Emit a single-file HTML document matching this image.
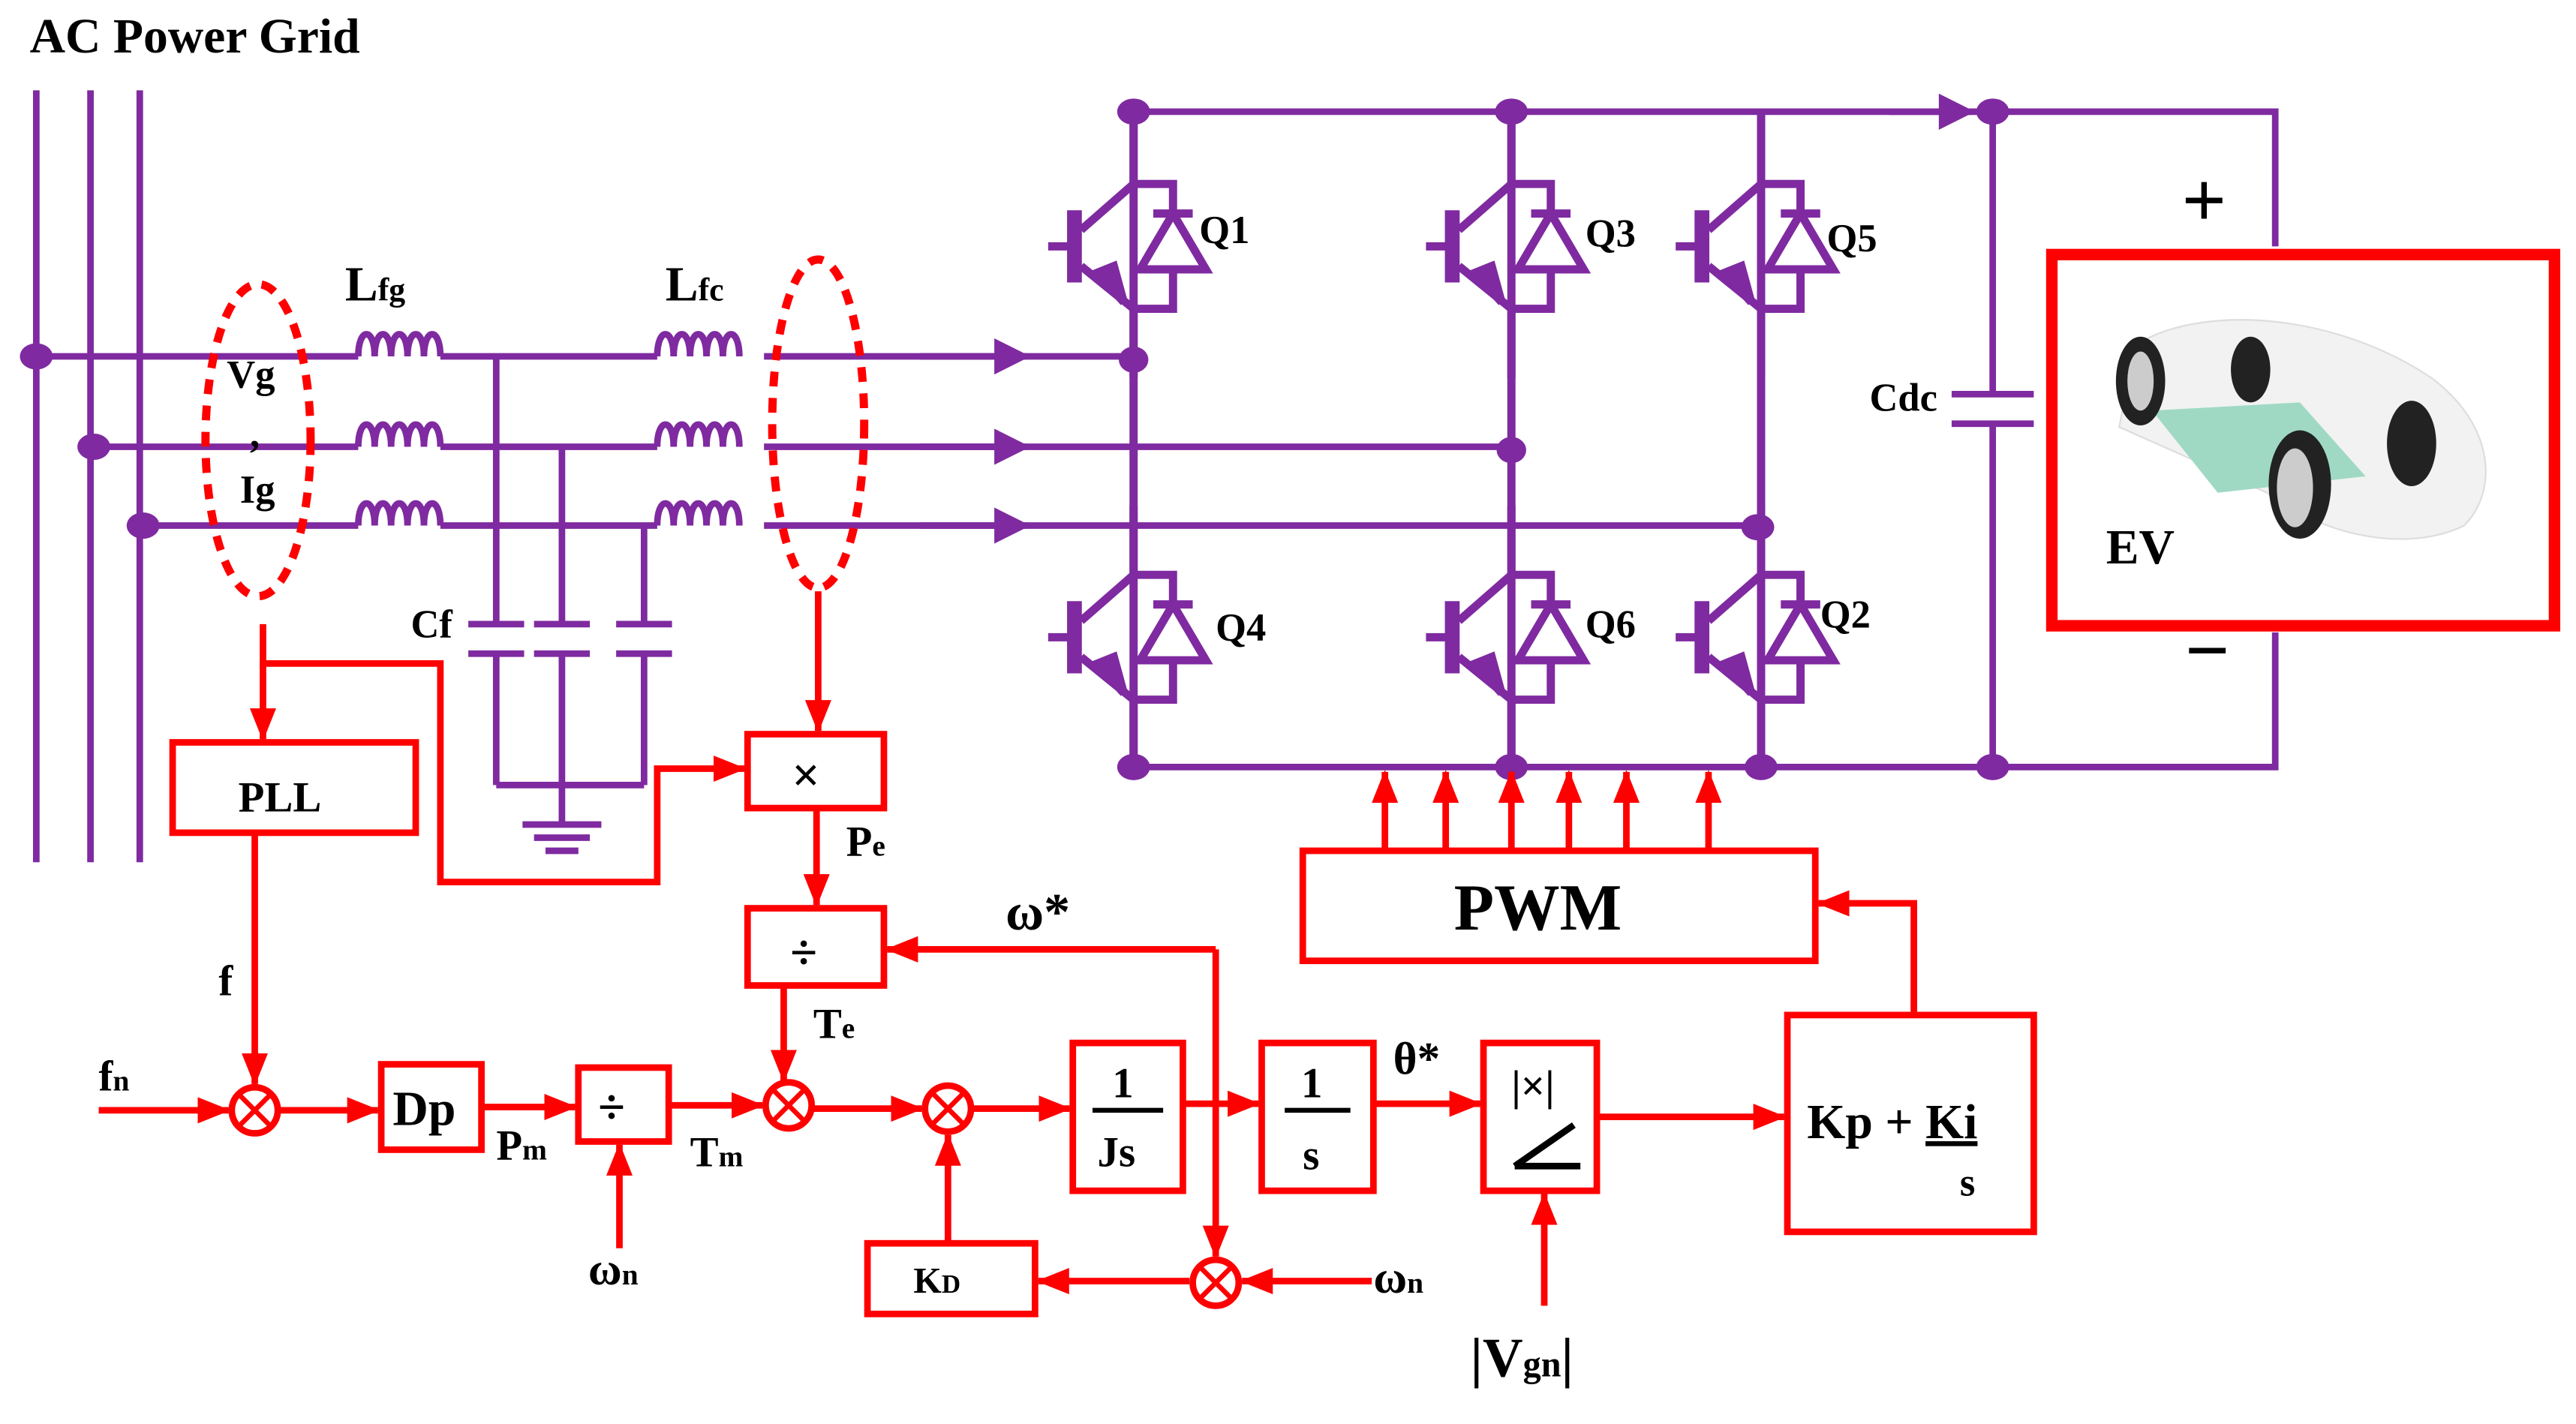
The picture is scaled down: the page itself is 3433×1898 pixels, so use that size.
<!DOCTYPE html>
<html><head><meta charset="utf-8"><style>
html,body{margin:0;padding:0;background:#fff}
svg{display:block}
text{font-family:"Liberation Serif",serif;font-weight:bold}
</style></head><body>
<svg width="3433" height="1898" viewBox="0 0 1568 867" xmlns="http://www.w3.org/2000/svg">
<defs>
<marker id="ar" markerWidth="20" markerHeight="16" refX="7.5" refY="4" orient="auto" markerUnits="userSpaceOnUse" viewBox="0 0 8 8" preserveAspectRatio="none"><path d="M0,0 L8,4 L0,8z" fill="#ff0000"/></marker>
<marker id="ap" viewBox="0 0 10 10" refX="9" refY="5" markerWidth="32" markerHeight="22" orient="auto" markerUnits="userSpaceOnUse"><path d="M0,0 L10,5 L0,10z" fill="#7f2aa0"/></marker>
<g id="igbt" stroke="#7f2aa0" stroke-width="5" fill="none">
<path d="M0,-80 V-38 H24 V38 H0 V80"/>
<path d="M0,-38 L-32,-10"/>
<path d="M-36,-22 V22" stroke-width="9"/>
<path d="M-52,0 H-36"/>
<path d="M-32,12 L0,38"/>
<path d="M-6,34 L-22,16 L-12,12z" fill="#7f2aa0"/>
<path d="M12,-20 H36"/>
<path d="M24,-20 L4,14 H44z" fill="#fff"/>
</g>
<g id="ind" fill="none" stroke="#7f2aa0" stroke-width="4">
<path d="M0,10 C0,-8 10,-8 10,10 C10,-8 20,-8 20,10 C20,-8 30,-8 30,10 C30,-8 40,-8 40,10 C40,-8 50,-8 50,10"/>
</g>
</defs>

<text x="18" y="32" font-size="30">AC Power Grid</text>

<g stroke="#7f2aa0" stroke-width="4" fill="none">
<path d="M22,55 V525 M55,55 V525 M85,55 V525"/>
<path d="M22,217 H218 M268,217 H400 M465,217 H690"/>
<path d="M55,272 H218 M268,272 H400 M465,272 H920"/>
<path d="M85,320 H218 M268,320 H400 M465,320 H1070"/>
<path d="M302,217 V380 M342,272 V380 M392,320 V380"/>
<path d="M302,398 V478 M342,398 V478 M392,398 V478 M302,478 H392"/>
<path d="M285,380 H319 M285,398 H319 M325,380 H359 M325,398 H359 M375,380 H409 M375,398 H409"/>
<path d="M342,478 V500 M318,502 H366 M325,510 H359 M332,518 H352"/>
<path d="M690,68 H1385 V150 M690,467 H1385 V385"/>
<path d="M1213,68 V240 M1213,258 V467 M1188,240 H1238 M1188,258 H1238"/>
<path d="M560,217 H625" marker-end="url(#ap)"/>
<path d="M560,272 H625" marker-end="url(#ap)"/>
<path d="M560,320 H625" marker-end="url(#ap)"/>
<path d="M1150,68 H1200" marker-end="url(#ap)"/>
</g>
<use href="#ind" x="218" y="207"/><use href="#ind" x="218" y="262"/><use href="#ind" x="218" y="310"/>
<use href="#ind" x="400" y="207"/><use href="#ind" x="400" y="262"/><use href="#ind" x="400" y="310"/>

<use href="#igbt" x="690" y="150"/>
<use href="#igbt" x="920" y="150"/>
<use href="#igbt" x="1072" y="150"/>
<use href="#igbt" x="690" y="388"/>
<use href="#igbt" x="920" y="388"/>
<use href="#igbt" x="1072" y="388"/>
<g stroke="#7f2aa0" stroke-width="5"><path d="M690,68 V467 M920,68 V467 M1072,68 V467"/></g>

<g fill="#7f2aa0">
<ellipse cx="22" cy="217" rx="10" ry="8"/><ellipse cx="57" cy="272" rx="10" ry="8"/><ellipse cx="87" cy="320" rx="10" ry="8"/>
<ellipse cx="690" cy="68" rx="10" ry="8"/><ellipse cx="920" cy="68" rx="10" ry="8"/><ellipse cx="1213" cy="68" rx="10" ry="8"/>
<ellipse cx="690" cy="219" rx="9" ry="8"/><ellipse cx="920" cy="274" rx="9" ry="8"/><ellipse cx="1070" cy="321" rx="10" ry="8"/>
<ellipse cx="690" cy="467" rx="10" ry="8"/><ellipse cx="920" cy="467" rx="10" ry="8"/><ellipse cx="1072" cy="467" rx="10" ry="8"/><ellipse cx="1213" cy="467" rx="10" ry="8"/>
</g>

<g font-size="24">
<text x="730" y="148">Q1</text><text x="965" y="150">Q3</text><text x="1112" y="153">Q5</text>
<text x="740" y="390">Q4</text><text x="965" y="388">Q6</text><text x="1108" y="382">Q2</text>
<text x="1138" y="250">Cdc</text>
<text x="250" y="388">Cf</text>
<text x="138" y="236">Vg</text><text x="152" y="272">,</text><text x="146" y="306">Ig</text>
</g>
<text x="210" y="183" font-size="30">L<tspan font-size="20">fg</tspan></text>
<text x="405" y="183" font-size="30">L<tspan font-size="20">fc</tspan></text>

<text x="1328" y="138" font-size="48" font-family="Liberation Sans">+</text>
<text x="1330" y="412" font-size="48" font-family="Liberation Sans">−</text>

<rect x="1249" y="155" width="306" height="226" fill="#fff" stroke="#ff0000" stroke-width="7"/>
<g>
<path d="M1300,210 C1340,185 1420,190 1480,230 C1520,260 1520,300 1500,320 C1470,335 1420,330 1380,300 L1290,260z" fill="#f2f2f2" stroke="#ddd"/>
<path d="M1310,250 L1400,245 L1440,290 L1350,300z" fill="#9fd9c4"/>
<ellipse cx="1303" cy="232" rx="15" ry="27" fill="#222"/><ellipse cx="1303" cy="232" rx="8" ry="18" fill="#ccc"/>
<ellipse cx="1370" cy="225" rx="12" ry="20" fill="#222"/>
<ellipse cx="1400" cy="295" rx="19" ry="33" fill="#222"/><ellipse cx="1397" cy="297" rx="11" ry="24" fill="#ccc"/>
<ellipse cx="1468" cy="270" rx="15" ry="26" fill="#222"/>
</g>
<text x="1282" y="343" font-size="30">EV</text>

<g fill="none" stroke="#ff0000" stroke-width="5" stroke-dasharray="9,7">
<ellipse cx="157" cy="268" rx="32" ry="95"/>
<ellipse cx="498" cy="258" rx="28" ry="100"/>
</g>

<g fill="#fff" stroke="#ff0000" stroke-width="4">
<rect x="105" y="452" width="148" height="55"/>
<rect x="455" y="447" width="83" height="45"/>
<rect x="455" y="553" width="83" height="47"/>
<rect x="793" y="518" width="312" height="67"/>
<rect x="232" y="648" width="61" height="52"/>
<rect x="352" y="650" width="55" height="45"/>
<rect x="653" y="635" width="67" height="90"/>
<rect x="768" y="635" width="68" height="90"/>
<rect x="903" y="635" width="69" height="90"/>
<rect x="1088" y="618" width="150" height="132"/>
<rect x="528" y="757" width="102" height="43"/>
</g>

<g fill="none" stroke="#ff0000" stroke-width="4">
<path d="M160,380 V450" marker-end="url(#ar)"/>
<path d="M160,404 H268 V537 H400 V468 H453" marker-end="url(#ar)"/>
<path d="M498,360 V445" marker-end="url(#ar)"/>
<path d="M497,492 V551" marker-end="url(#ar)"/>
<path d="M477,600 V658" marker-end="url(#ar)"/>
<path d="M155,507 V660" marker-end="url(#ar)"/>
<path d="M60,676 H139" marker-end="url(#ar)"/>
<path d="M169,676 H230" marker-end="url(#ar)"/>
<path d="M293,674 H350" marker-end="url(#ar)"/>
<path d="M407,673 H464" marker-end="url(#ar)"/>
<path d="M494,675 H561" marker-end="url(#ar)"/>
<path d="M591,675 H651" marker-end="url(#ar)"/>
<path d="M720,672 H766" marker-end="url(#ar)"/>
<path d="M836,672 H901" marker-end="url(#ar)"/>
<path d="M972,680 H1086" marker-end="url(#ar)"/>
<path d="M377,760 V697" marker-end="url(#ar)"/>
<path d="M577,757 V691" marker-end="url(#ar)"/>
<path d="M740,578 V765" marker-end="url(#ar)"/>
<path d="M740,578 H540" marker-end="url(#ar)"/>
<path d="M835,780 H756" marker-end="url(#ar)"/>
<path d="M724,780 H632" marker-end="url(#ar)"/>
<path d="M940,795 V727" marker-end="url(#ar)"/>
<path d="M1165,616 V550 H1107" marker-end="url(#ar)"/>
<path d="M843,518 V470" marker-end="url(#ar)"/>
<path d="M880,518 V470" marker-end="url(#ar)"/>
<path d="M920,518 V470" marker-end="url(#ar)"/>
<path d="M955,518 V470" marker-end="url(#ar)"/>
<path d="M990,518 V470" marker-end="url(#ar)"/>
<path d="M1040,518 V470" marker-end="url(#ar)"/>
</g>

<g fill="#fff" stroke="#ff0000" stroke-width="4">
<circle cx="155" cy="676" r="14"/><circle cx="480" cy="673" r="14"/><circle cx="577" cy="675" r="14"/><circle cx="740" cy="781" r="14"/>
</g>
<g stroke="#ff0000" stroke-width="3">
<path d="M145,666 L165,686 M165,666 L145,686"/>
<path d="M470,663 L490,683 M490,663 L470,683"/>
<path d="M567,665 L587,685 M587,665 L567,685"/>
<path d="M730,771 L750,791 M750,771 L730,791"/>
</g>

<g font-size="26" fill="#000">
<text x="145" y="494" font-family="Liberation Serif">PLL</text>
<text x="482" y="482" font-family="Liberation Sans" font-size="30">×</text>
<text x="481" y="590" font-family="Liberation Sans" font-size="30">÷</text>
<text x="885" y="566" font-size="40">PWM</text>
<text x="239" y="685" font-size="30">Dp</text>
<text x="364" y="684" font-family="Liberation Sans" font-size="30">÷</text>
<text x="677" y="668">1</text><path d="M665,676 H708" stroke="#000" stroke-width="3"/><text x="668" y="710">Js</text>
<text x="792" y="668">1</text><path d="M782,676 H822" stroke="#000" stroke-width="3"/><text x="793" y="712">s</text>
<text x="920" y="670" font-family="Liberation Sans">|×|</text>
<path d="M922,710 L958,685 M922,710 H962" stroke="#000" stroke-width="4"/>
<text x="1100" y="693" font-size="30">Kp + <tspan text-decoration="underline">Ki</tspan></text>
<text x="1193" y="728" font-size="24">s</text>
<text x="556" y="787" font-family="Liberation Sans" font-size="22">K<tspan font-size="16">D</tspan></text>
<text x="133" y="606">f</text>
<text x="60" y="664">f<tspan font-size="18">n</tspan></text>
<text x="515" y="521">P<tspan font-size="18">e</tspan></text>
<text x="495" y="632">T<tspan font-size="18">e</tspan></text>
<text x="302" y="706">P<tspan font-size="18">m</tspan></text>
<text x="420" y="710">T<tspan font-size="18">m</tspan></text>
<text x="612" y="566" font-size="32">ω*</text>
<text x="848" y="654" font-size="28">θ*</text>
<text x="358" y="782" font-size="28">ω<tspan font-size="18">n</tspan></text>
<text x="836" y="787" font-size="28">ω<tspan font-size="18">n</tspan></text>
<text x="895" y="838" font-size="34">|V<tspan font-size="22">gn</tspan>|</text>
</g>
</svg>
</body></html>
